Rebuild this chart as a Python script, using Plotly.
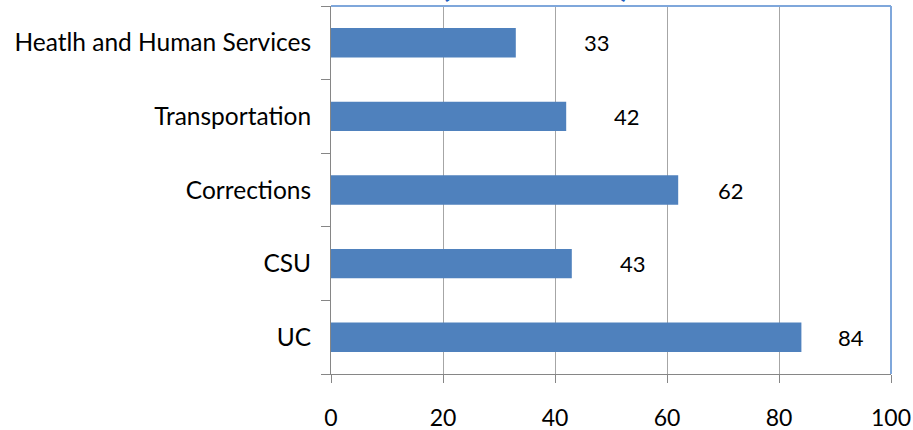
import plotly.graph_objects as go

categories = ["UC", "CSU", "Corrections", "Transportation", "Heatlh and Human Services"]
values = [84, 43, 62, 42, 33]
x_ticks = [0, 20, 40, 60, 80, 100]
title_text = "(in millions)"

# pixel offsets of the value labels from the bar ends (style)
label_shift = [50, 61, 53, 61, 81]

FONT = "Lato"

fig = go.Figure()
fig.add_trace(go.Bar(
    y=categories, x=values, orientation="h",
    marker=dict(color="#4F81BD", line=dict(width=0)),
    width=0.4, hoverinfo="x+y",
))

for c, v, s in zip(categories, values, label_shift):
    fig.add_annotation(x=v, y=c, xref="x", yref="y", text=str(v), showarrow=False,
                       xshift=s, xanchor="center", yanchor="middle",
                       font=dict(family=FONT, size=22, color="#000000"))

fig.add_annotation(x=0.364, y=1, xref="paper", yref="paper", text="<b>%s</b>" % title_text,
                   showarrow=False, xanchor="center", yanchor="bottom", yshift=0,
                   font=dict(family=FONT, size=38, color="#1F5FBF"))

# plot-area border (top and right), blue
fig.add_shape(type="line", xref="paper", yref="paper", x0=0, x1=1, y0=1, y1=1,
              line=dict(color="#7FA7DB", width=2))
fig.add_shape(type="line", xref="paper", yref="paper", x0=1, x1=1, y0=0, y1=1,
              line=dict(color="#7FA7DB", width=2))

fig.update_layout(
    width=913, height=430,
    margin=dict(l=331, r=22, t=6, b=56, pad=0),
    paper_bgcolor="white", plot_bgcolor="white",
    showlegend=False,
    font=dict(family=FONT, color="#000000"),
    xaxis=dict(range=[0, 100], tickvals=x_ticks, ticktext=[str(t) for t in x_ticks],
               showgrid=True, gridcolor="#A6A6A6", gridwidth=1,
               showline=True, linecolor="#868686", linewidth=1,
               ticks="outside", ticklen=8, tickcolor="#868686",
               tickfont=dict(family=FONT, size=23), ticklabelstandoff=15,
               zeroline=False, fixedrange=True, automargin=False),
    yaxis=dict(showline=True, linecolor="#868686", linewidth=1,
               ticks="outside", ticklen=9, tickcolor="#868686", tickson="boundaries",
               showgrid=False, tickfont=dict(family=FONT, size=24.5),
               ticklabelstandoff=14, fixedrange=True, automargin=False),
    bargap=0.6,
)

fig.write_html("out.html", config={"displayModeBar": False},
               post_script="document.body.style.margin='0';document.body.style.overflow='hidden';")
